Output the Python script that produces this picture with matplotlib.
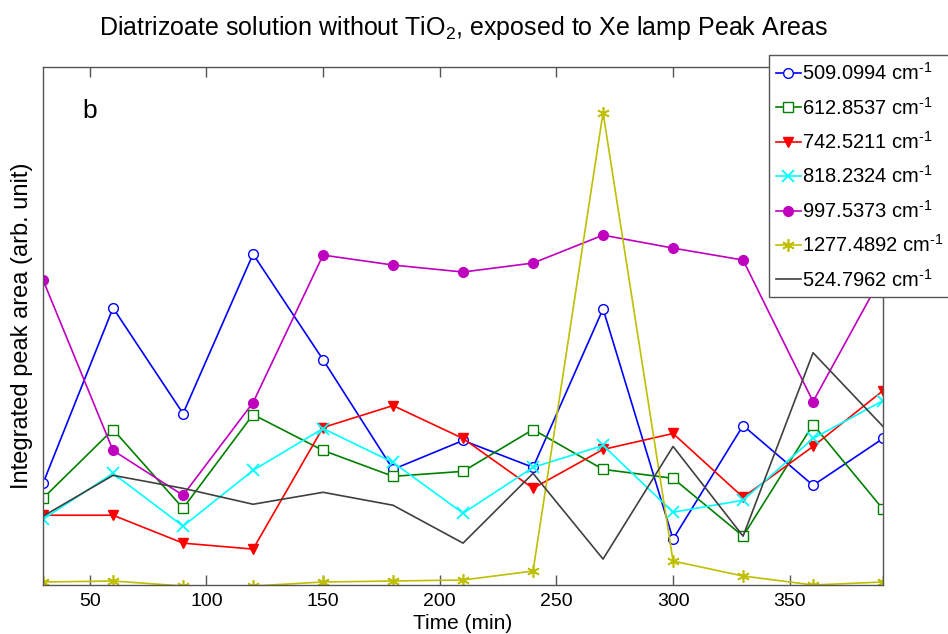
import matplotlib
matplotlib.use("Agg")
import matplotlib.pyplot as plt

plt.rcParams["font.family"] = ["Liberation Sans", "DejaVu Sans"]
plt.rcParams["mathtext.fontset"] = "custom"
plt.rcParams["mathtext.rm"] = "Liberation Sans"
plt.rcParams["mathtext.it"] = "Liberation Sans:italic"
plt.rcParams["mathtext.bf"] = "Liberation Sans:bold"

# 照射时间 (min)
time_min = [30, 60, 90, 120, 150, 180, 210, 240, 270, 300, 330, 360, 390]

# 各波数处的积分峰面积 (任意单位)
area_509 = [102, 278, 172, 332, 226, 116, 145, 118, 277, 46, 160, 100, 147]
area_612 = [87, 156, 77, 171, 135, 109, 114, 156, 116, 107, 49, 161, 76]
area_742 = [70, 70, 42, 36, 158, 180, 147, 97, 136, 152, 88, 139, 195]
area_818 = [66, 112, 59, 115, 157, 123, 72, 118, 140, 73, 85, 147, 185]
area_997 = [306, 135, 90, 183, 331, 321, 314, 323, 351, 338, 326, 184, 312]
area_1277 = [3, 4, -1, -1, 3, 4, 5, 14, 474, 24, 9, 0, 3]
area_524 = [69, 110, 97, 81, 93, 80, 42, 112, 26, 139, 49, 233, 159]

wavenumbers = ["509.0994", "612.8537", "742.5211", "818.2324",
               "997.5373", "1277.4892", "524.7962"]
labels = [w + r" cm$^{\text{-}1}$" for w in wavenumbers]

fig = plt.figure(figsize=(9.48, 6.34), dpi=100)
ax = fig.add_axes([0.0454, 0.0773, 0.8861, 0.8175])

lw = 1.2
ax.plot(time_min, area_509, color="#0000ff", lw=lw, marker="o", ms=7,
        mfc="white", mec="#0000ff", label=labels[0])
ax.plot(time_min, area_612, color="#008000", lw=lw, marker="s", ms=7,
        mfc="white", mec="#008000", label=labels[1])
ax.plot(time_min, area_742, color="#ff0000", lw=lw, marker="v", ms=7,
        mfc="#ff0000", mec="#ff0000", label=labels[2])
ax.plot(time_min, area_818, color="#00ffff", lw=lw, marker="x", ms=9,
        mew=1.3, label=labels[3])
ax.plot(time_min, area_997, color="#bf00bf", lw=lw, marker="o", ms=7,
        mfc="#bf00bf", mec="#bf00bf", label=labels[4])
ax.plot(time_min, area_1277, color="#bfbf00", lw=lw, marker=(6, 2, 0), ms=9,
        mew=1.2, label=labels[5])
ax.plot(time_min, area_524, color="#404040", lw=lw, label=labels[6])

ax.set_xlim(30, 390)
ax.set_ylim(0, 520)
ax.set_xticks([50, 100, 150, 200, 250, 300, 350])
ax.set_yticks([])
ax.tick_params(axis="x", direction="in", top=True, length=7, width=1,
               color="#555555", labelsize=14, pad=6)
for spine in ax.spines.values():
    spine.set_color("#555555")
    spine.set_linewidth(1)

ax.set_xlabel("Time (min)", fontsize=15, labelpad=3)
ax.set_ylabel("Integrated peak area (arb. unit)", fontsize=17, labelpad=7)
ax.set_title("Diatrizoate solution without TiO$_2$, exposed to Xe lamp Peak Areas",
             fontsize=18, pad=23)
ax.text(0.056, 0.915, "b", transform=ax.transAxes, fontsize=19,
        ha="center", va="center")

leg = ax.legend(loc="upper left", bbox_to_anchor=(0.811, 0.913),
                bbox_transform=fig.transFigure, fontsize=14.5, frameon=True,
                fancybox=False, framealpha=1, edgecolor="#555555",
                handlelength=1.25, handletextpad=0.05, labelspacing=0.62,
                borderpad=0.35, borderaxespad=0)
leg.get_frame().set_linewidth(1)

fig.savefig("out.png", dpi=100)
